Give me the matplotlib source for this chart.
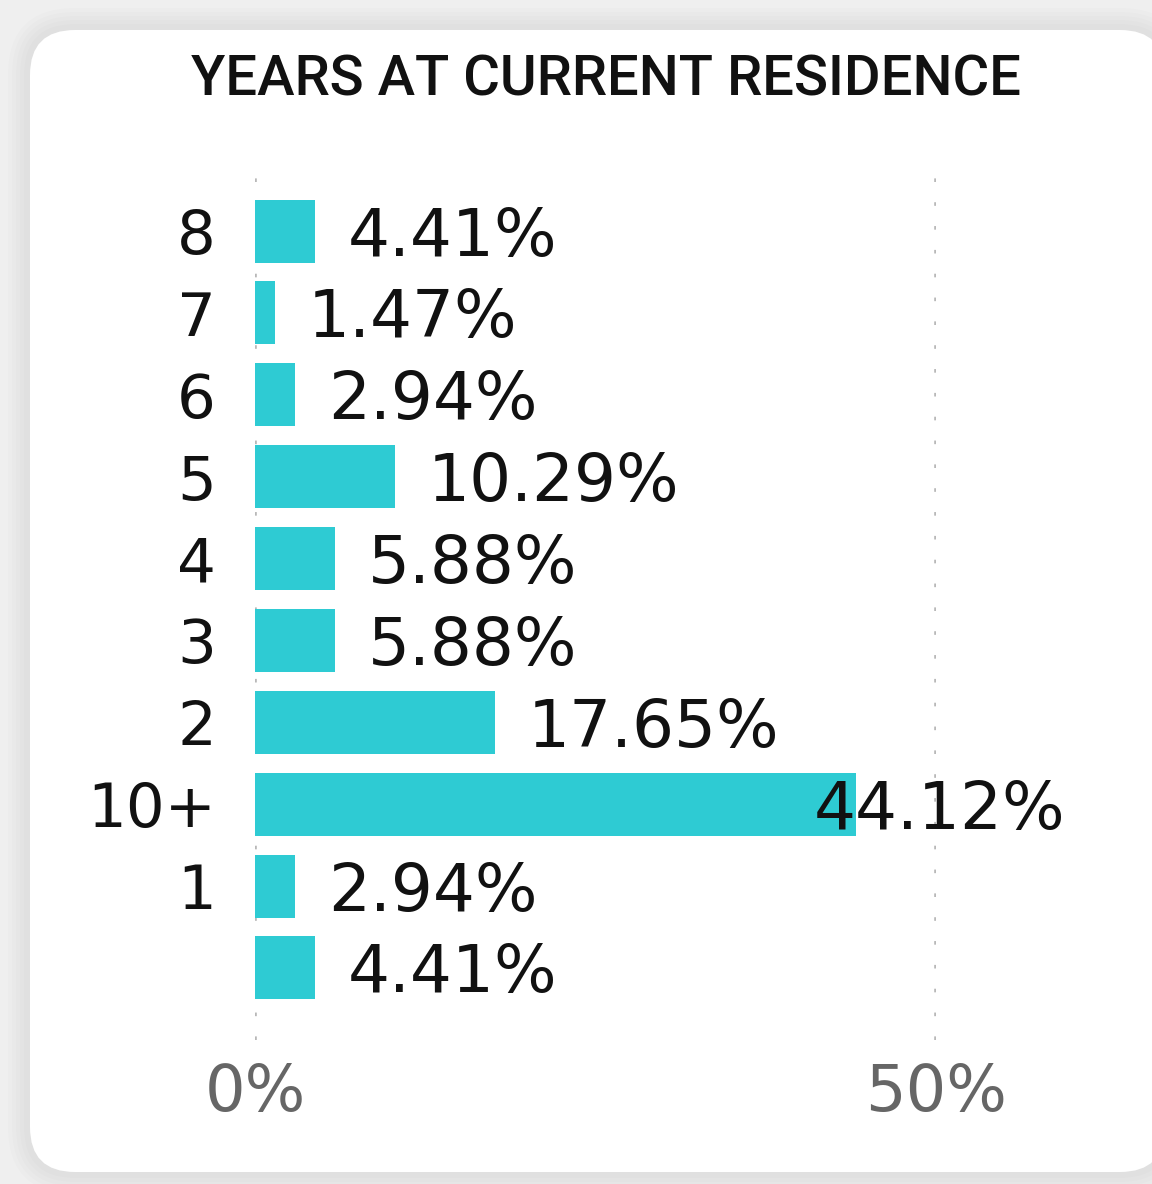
import matplotlib
matplotlib.use("Agg")
import matplotlib.pyplot as plt
from matplotlib.patches import FancyBboxPatch

categories = ['8', '7', '6', '5', '4', '3', '2', '10+', '1', '']
values = [4.41, 1.47, 2.94, 10.29, 5.88, 5.88, 17.65, 44.12, 2.94, 4.41]
value_labels = ['4.41%', '1.47%', '2.94%', '10.29%', '5.88%', '5.88%', '17.65%', '44.12%', '2.94%', '4.41%']
xticks = [0, 50]
xtick_labels = ['0%', '50%']
title = 'YEARS AT CURRENT RESIDENCE'

W, H = 1152, 1184
fig = plt.figure(figsize=(W / 100, H / 100), dpi=100)
fig.patch.set_facecolor('#efefef')

# soft shadow + card
for i in range(5):
    grow = 22 - i * 4
    sh = FancyBboxPatch((30 - grow, H - 1172 - grow), 1135 + 2 * grow, 1142 + 2 * grow,
                        boxstyle='round,pad=0,rounding_size=%d' % (45 + grow),
                        transform=None, facecolor='black', alpha=0.012, edgecolor='none', zorder=-6)
    fig.patches.append(sh)
card = FancyBboxPatch((30, H - 1172), 1135, 1142, boxstyle='round,pad=0,rounding_size=45',
                      transform=None, facecolor='white', edgecolor='none', zorder=-5)
fig.patches.append(card)

ax_left, ax_right = 255 / W, 936 / W
ax_top, ax_bot = 168 / H, 1040 / H
ax = fig.add_axes([ax_left, 1 - ax_bot, ax_right - ax_left, ax_bot - ax_top])
ax.set_facecolor('none')

ypos = list(range(len(categories)))
ax.barh(ypos, values, height=0.77, color='#2ECBD3', zorder=2)
ax.set_xlim(0, 50)
ax.set_ylim(9.88, -0.77)

for x in xticks:
    ax.axvline(x, color='#b8b8b8', lw=2.6, linestyle=(0, (1, 5.6)), dash_capstyle='butt', zorder=1)

for s in ax.spines.values():
    s.set_visible(False)

ax.set_yticks(ypos)
ax.set_yticklabels(categories, fontsize=44, color='#111111', family='DejaVu Sans')
ax.tick_params(axis='y', length=0, pad=28)
ax.set_xticks(xticks)
ax.set_xticklabels(xtick_labels, fontsize=46, color='#666666', family='DejaVu Sans')
ax.tick_params(axis='x', length=0, pad=16)

fig.canvas.draw()
renderer = fig.canvas.get_renderer()
xmax_label = 59.5
for y, v, lab in zip(ypos, values, value_labels):
    t = ax.text(v + 2.4, y + 0.08, lab, fontsize=47.5, color='#111111', va='center', ha='left',
                family='DejaVu Sans', zorder=3, clip_on=False)
    bb = t.get_window_extent(renderer).transformed(ax.transData.inverted())
    if bb.x1 > xmax_label:
        t.set_x(xmax_label)
        t.set_ha('right')

fig.text(606 / W, 1 - 80 / H, title, fontsize=40.5, color='#111111', ha='center', va='center',
         family='Roboto', fontweight='medium')

fig.savefig('out.png', dpi=100, facecolor=fig.get_facecolor())
